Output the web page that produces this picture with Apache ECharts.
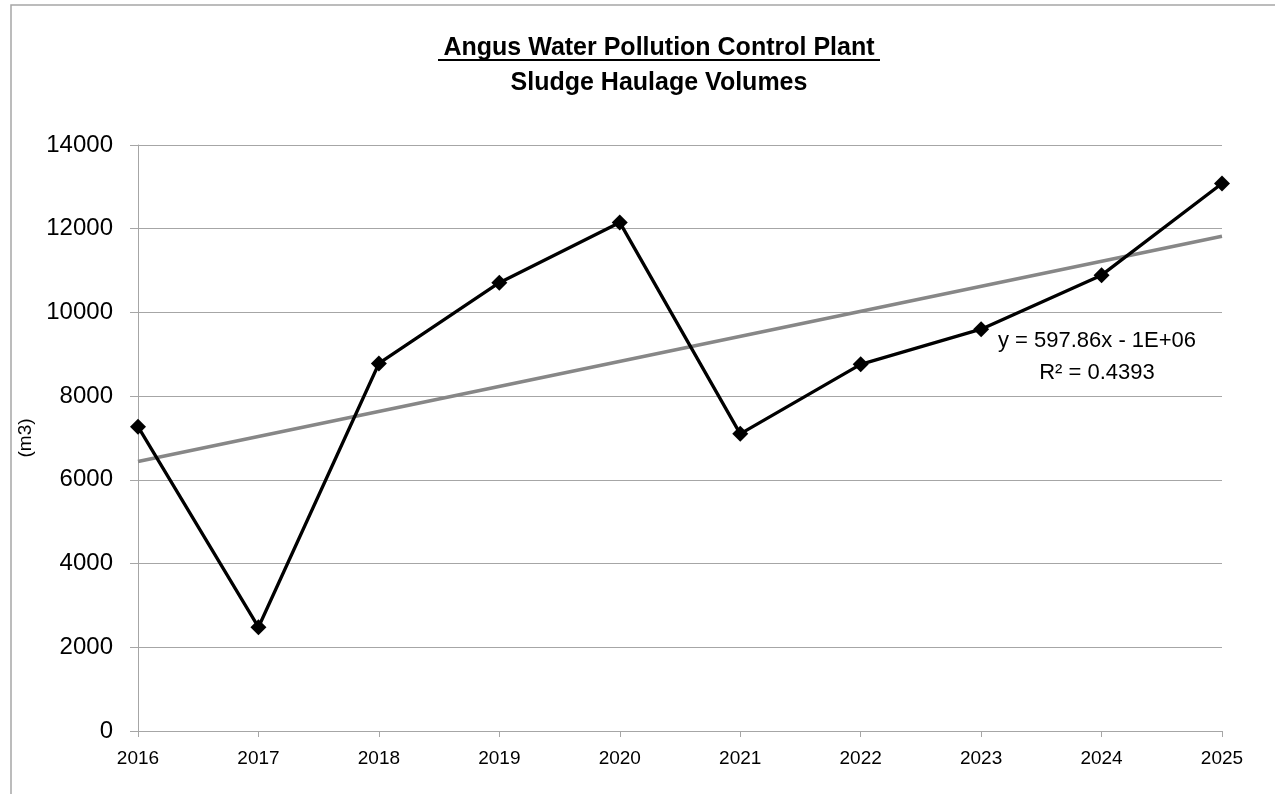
<!DOCTYPE html>
<html>
<head>
<meta charset="utf-8">
<script src="https://cdn.jsdelivr.net/npm/echarts@6/dist/echarts.min.js"></script>
<style>
html,body{margin:0;padding:0;background:#fff;}
#c{width:1275px;height:794px;}
</style>
</head>
<body>
<div id="c"></div>
<script>
const years = ['2016','2017','2018','2019','2020','2021','2022','2023','2024','2025'];
const volumes = [7270, 2480, 8780, 10710, 12150, 7100, 8760, 9600, 10890, 13080];
const trendEnds = [6440, 11820];
const yTicks = [0, 2000, 4000, 6000, 8000, 10000, 12000, 14000];
const titleLines = ['Angus Water Pollution Control Plant', 'Sludge Haulage Volumes'];
const eqLines = ['y = 597.86x - 1E+06', 'R² = 0.4393'];
const yName = '(m3)';

const trendData = years.map((y, i) => i === 0 ? trendEnds[0] : (i === years.length - 1 ? trendEnds[1] : null));

const chart = echarts.init(document.getElementById('c'));
const gridCol = '#a6a6a6';
chart.setOption({
  animation: false,
  backgroundColor: '#fff',
  grid: {left: 138, top: 145, right: 53, bottom: 63, containLabel: false},
  xAxis: {
    type: 'category', data: years, boundaryGap: false,
    axisLine: {lineStyle: {color: gridCol, width: 1}},
    axisTick: {show: true, length: 6, alignWithLabel: true, lineStyle: {color: gridCol}},
    axisLabel: {color: '#000', fontSize: 19, fontFamily: 'Liberation Sans', margin: 18},
    splitLine: {show: false}
  },
  yAxis: {
    type: 'value', min: yTicks[0], max: yTicks[yTicks.length - 1], interval: 2000,
    name: yName, nameLocation: 'middle', nameRotate: 90, nameGap: 88,
    nameTextStyle: {color: '#000', fontSize: 19, fontFamily: 'Liberation Sans'},
    axisLine: {show: true, lineStyle: {color: gridCol, width: 1}},
    axisTick: {show: true, length: 8, lineStyle: {color: gridCol}},
    axisLabel: {color: '#000', fontSize: 24, fontFamily: 'Liberation Sans', margin: 25, formatter: v => String(v)},
    splitLine: {show: true, lineStyle: {color: gridCol, width: 1}}
  },
  series: [
    {
      type: 'line', data: trendData, connectNulls: true, symbol: 'none',
      lineStyle: {color: '#878787', width: 3.5}, z: 2
    },
    {
      type: 'line', data: volumes, symbol: 'diamond', symbolSize: 16,
      itemStyle: {color: '#000'}, lineStyle: {color: '#000', width: 3.3}, z: 3
    }
  ],
  graphic: [
    {type: 'rect', shape: {x: 11, y: 5, width: 1400, height: 1000}, style: {fill: 'none', stroke: '#a6a6a6', lineWidth: 1.5}, silent: true},
    {type: 'text', x: 659, y: 48, style: {text: titleLines[0], fill: '#000', font: 'bold 25px "Liberation Sans Narrow", "Liberation Sans"', textAlign: 'center', textVerticalAlign: 'middle'}},
    {type: 'line', shape: {x1: 438, y1: 60, x2: 880, y2: 60}, style: {stroke: '#000', lineWidth: 2}},
    {type: 'text', x: 659, y: 83, style: {text: titleLines[1], fill: '#000', font: 'bold 25px "Liberation Sans Narrow", "Liberation Sans"', textAlign: 'center', textVerticalAlign: 'middle'}},
    {type: 'text', x: 1097, y: 341, style: {text: eqLines[0], fill: '#000', font: '22px "Liberation Sans"', textAlign: 'center', textVerticalAlign: 'middle'}},
    {type: 'text', x: 1097, y: 373, style: {text: eqLines[1], fill: '#000', font: '22px "Liberation Sans"', textAlign: 'center', textVerticalAlign: 'middle'}}
  ]
});
</script>
</body>
</html>
